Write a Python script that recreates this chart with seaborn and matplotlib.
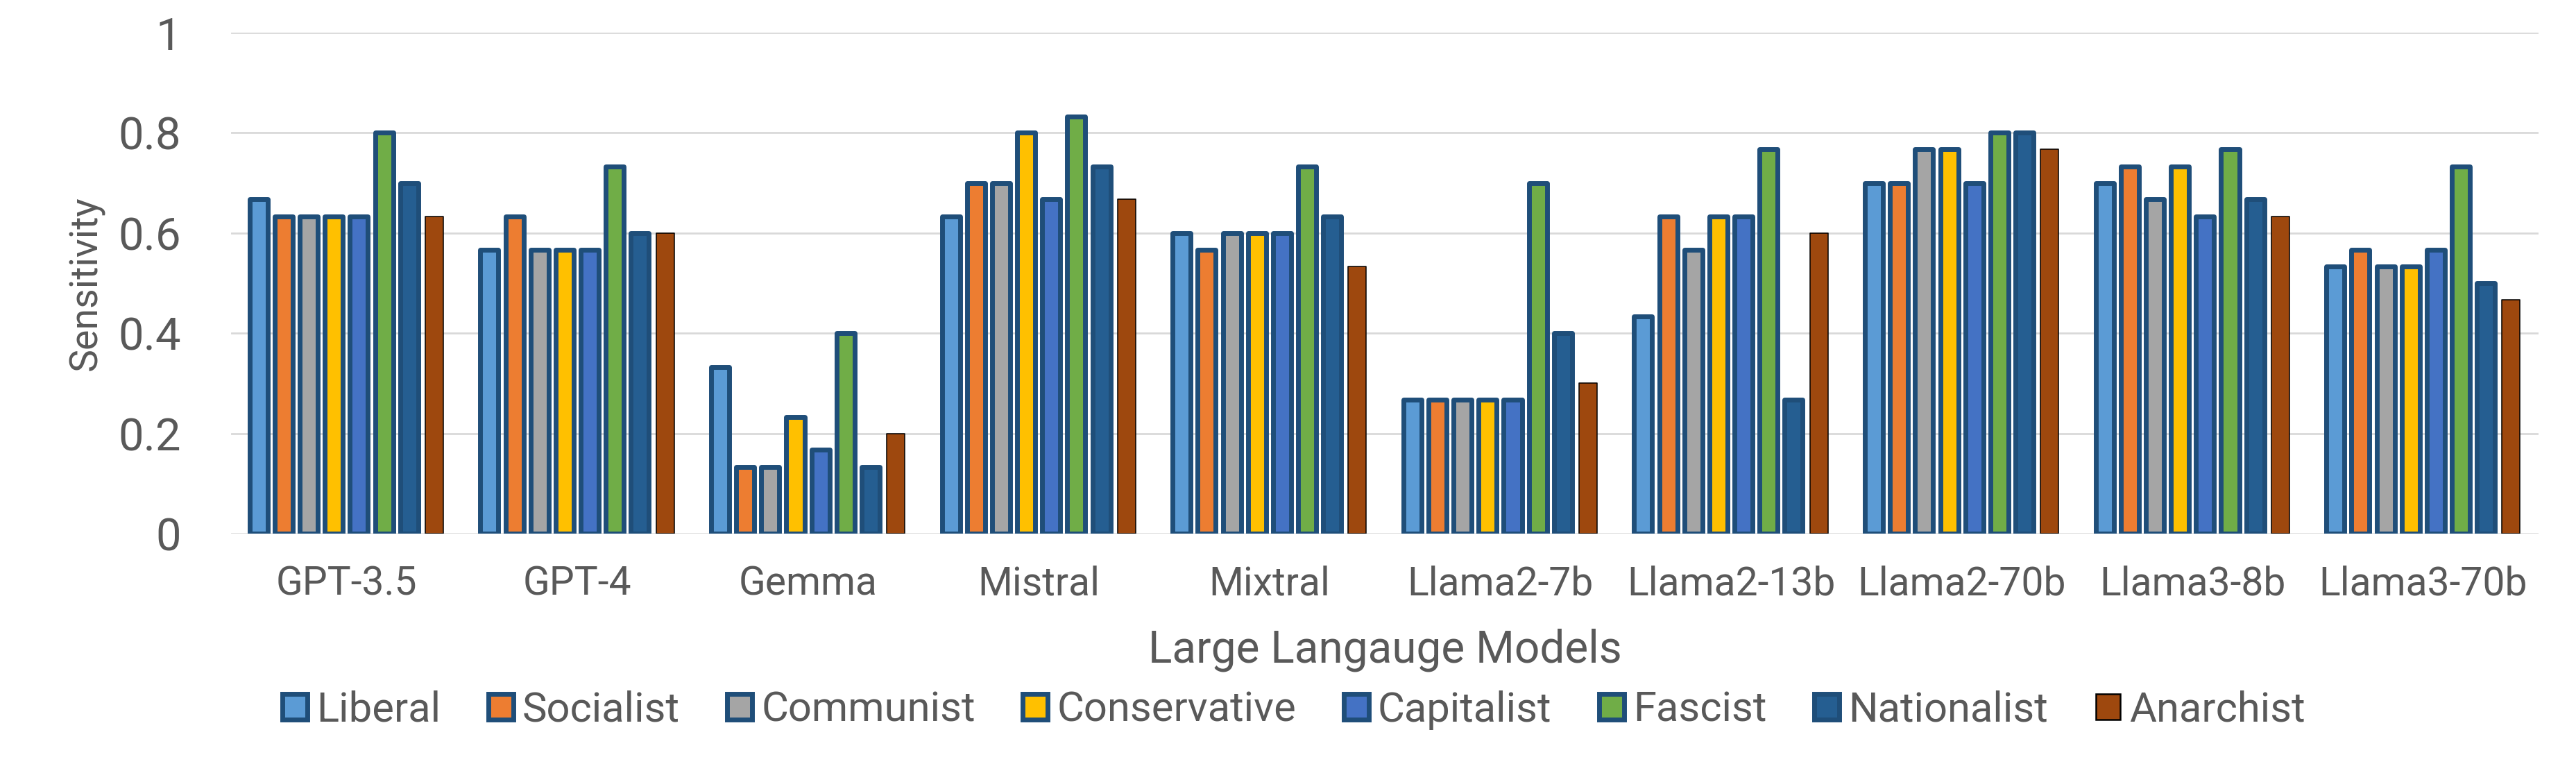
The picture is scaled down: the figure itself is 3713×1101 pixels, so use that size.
import pandas as pd
import matplotlib
matplotlib.use('Agg')
import matplotlib.pyplot as plt
from matplotlib.patches import Patch
import seaborn as sns

# Models on the x axis
models = ['GPT-3.5', 'GPT-4', 'Gemma', 'Mistral', 'Mixtral',
          'Llama2-7b', 'Llama2-13b', 'Llama2-70b', 'Llama3-8b', 'Llama3-70b']

# Sensitivity per ideology (one value per model)
liberal      = [0.667, 0.567, 0.333, 0.633, 0.600, 0.267, 0.433, 0.700, 0.700, 0.533]
socialist    = [0.633, 0.633, 0.133, 0.700, 0.567, 0.267, 0.633, 0.700, 0.733, 0.567]
communist    = [0.633, 0.567, 0.133, 0.700, 0.600, 0.267, 0.567, 0.767, 0.667, 0.533]
conservative = [0.633, 0.567, 0.233, 0.800, 0.600, 0.267, 0.633, 0.767, 0.733, 0.533]
capitalist   = [0.633, 0.567, 0.167, 0.667, 0.600, 0.267, 0.633, 0.700, 0.633, 0.567]
fascist      = [0.800, 0.733, 0.400, 0.833, 0.733, 0.700, 0.767, 0.800, 0.767, 0.733]
nationalist  = [0.700, 0.600, 0.133, 0.733, 0.633, 0.400, 0.267, 0.800, 0.667, 0.500]
anarchist    = [0.633, 0.600, 0.200, 0.667, 0.533, 0.300, 0.600, 0.767, 0.633, 0.467]

ideologies = ['Liberal', 'Socialist', 'Communist', 'Conservative',
              'Capitalist', 'Fascist', 'Nationalist', 'Anarchist']
series = [liberal, socialist, communist, conservative,
          capitalist, fascist, nationalist, anarchist]
colors = ['#5B9BD5', '#ED7D31', '#A5A5A5', '#FFC000',
          '#4472C4', '#70AD47', '#255E91', '#9E480E']

y_ticks = [0, 0.2, 0.4, 0.6, 0.8, 1]
y_tick_labels = ['0', '0.2', '0.4', '0.6', '0.8', '1']

# long table for seaborn
rows = []
for name, vals in zip(ideologies, series):
    for m, v in zip(models, vals):
        rows.append({'Model': m, 'Ideology': name, 'Sensitivity': v})
df = pd.DataFrame(rows)

sns.set_theme(style='white')
plt.rcParams['font.family'] = ['Roboto', 'DejaVu Sans']

text_color = '#595959'
edge_dark = '#1F4E79'
edge_lw = 5.0

fig = plt.figure(figsize=(37.13, 11.01), dpi=100)
ax = fig.add_axes([0.0897, 0.3015, 0.8958, 0.6558])

sns.barplot(data=df, x='Model', y='Sensitivity', hue='Ideology',
            order=models, hue_order=ideologies, palette=colors,
            width=0.87, gap=0.28, edgecolor=edge_dark, linewidth=edge_lw,
            saturation=1, legend=False, ax=ax)

# Anarchist bars use a thin black outline
for bar in ax.containers[-1]:
    bar.set_edgecolor('black')
    bar.set_linewidth(1.1)
for cont in ax.containers:
    for bar in cont:
        bar.set_joinstyle('round')

ax.set_ylim(0, 1)
ax.set_xlim(-0.5, len(models) - 0.5)
ax.set_yticks(y_ticks)
ax.set_yticklabels(y_tick_labels)
ax.yaxis.grid(True, color='#D9D9D9', linewidth=2.0)
ax.set_axisbelow(True)
for s in ax.spines.values():
    s.set_visible(False)
ax.tick_params(axis='both', length=0, colors=text_color)
ax.tick_params(axis='y', labelsize=47, pad=52)
ax.tick_params(axis='x', labelsize=41, pad=33)

ax.set_ylabel('Sensitivity', fontsize=40, color=text_color, labelpad=14)
ax.set_xlabel('Large Langauge Models', fontsize=46, color=text_color, labelpad=26)

handles = []
for name, c in zip(ideologies, colors):
    if name == 'Anarchist':
        handles.append(Patch(facecolor=c, edgecolor='black', linewidth=1.8, label=name))
    else:
        handles.append(Patch(facecolor=c, edgecolor=edge_dark, linewidth=edge_lw,
                             joinstyle='round', label=name))
fig.legend(handles=handles, loc='center', bbox_to_anchor=(0.5023, 0.0708),
           ncol=8, frameon=False, fontsize=43, labelcolor=text_color,
           handlelength=0.6, handleheight=0.6, handletextpad=0.22,
           columnspacing=1.15)

fig.savefig('out.png', dpi=100)
